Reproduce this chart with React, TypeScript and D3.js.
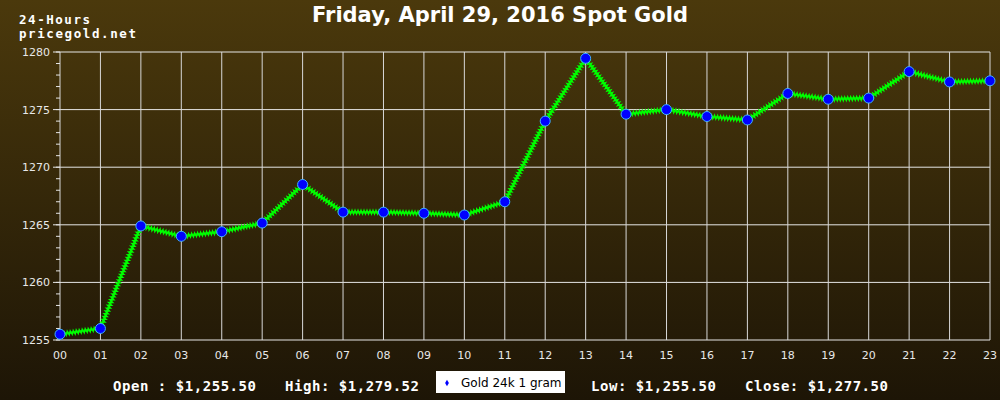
import React from "react";
import * as d3 from "d3";

const hours = ["00","01","02","03","04","05","06","07","08","09","10","11","12","13","14","15","16","17","18","19","20","21","22","23"];
const prices = [1255.5,1256.0,1264.9,1264.0,1264.4,1265.15,1268.5,1266.1,1266.1,1266.0,1265.85,1267.0,1274.0,1279.45,1274.6,1275.0,1274.4,1274.1,1276.4,1275.9,1276.0,1278.3,1277.4,1277.5];
const yTicks = [1255,1260,1265,1270,1275,1280];
const title = "Friday, April 29, 2016 Spot Gold";
const summary = [
  { label: "Open : $1,255.50", x: 113 },
  { label: "High: $1,279.52", x: 285 },
  { label: "Low: $1,255.50", x: 591 },
  { label: "Close: $1,277.50", x: 745 },
];
const legendLabel = "Gold 24k 1 gram";

const W = 1000, H = 400;
const L = 60, R = 990, T = 52, B = 340;

function zigzag(pts: [number, number][]): string {
  const out: string[] = [];
  const step = 1.5, amp = 2;
  let k = 0;
  for (let i = 0; i < pts.length - 1; i++) {
    const [x0, y0] = pts[i];
    const [x1, y1] = pts[i + 1];
    const dx = x1 - x0, dy = y1 - y0;
    const len = Math.hypot(dx, dy);
    const n = Math.max(1, Math.round(len / step));
    const nx = -dy / len, ny = dx / len;
    for (let j = 0; j < n; j++) {
      const t = j / n;
      const s = (k++ % 2 === 0 ? 1 : -1) * amp;
      out.push(`${x0 + dx * t + nx * s},${y0 + dy * t + ny * s}`);
    }
  }
  const last = pts[pts.length - 1];
  out.push(`${last[0]},${last[1]}`);
  return "M" + out.join("L");
}

export default function App() {
  const x = d3.scalePoint<string>().domain(hours).range([L, R]);
  const y = d3.scaleLinear().domain([1255, 1280]).range([B, T]);
  const minor = d3.range(1255, 1281, 1);
  const pts: [number, number][] = prices.map((p, i) => [x(hours[i])!, y(p)]);
  const line = d3.line()(pts)!;
  return (
    <svg width={W} height={H} style={{ position: "absolute", left: 0, top: 0 }}>
      <defs>
        <linearGradient id="bg" x1="0" y1="0" x2="0" y2="1">
          <stop offset="0" stopColor="#4b390c" />
          <stop offset="1" stopColor="#1d1506" />
        </linearGradient>
      </defs>
      <rect x={0} y={0} width={W} height={H} fill="url(#bg)" />
      {yTicks.map((t) => (
        <line key={"h" + t} x1={L} x2={R} y1={y(t)} y2={y(t)} stroke="#e6e6e6" strokeWidth={1} />
      ))}
      {hours.map((h) => (
        <line key={"v" + h} x1={x(h)} x2={x(h)} y1={T} y2={B} stroke="#d8d8d8" strokeWidth={1} />
      ))}
      {minor.map((t) => (
        <line key={"m" + t} x1={L - 4} x2={L} y1={y(t)} y2={y(t)} stroke="#e6e6e6" strokeWidth={1} />
      ))}
      {yTicks.map((t) => (
        <line key={"mt" + t} x1={L - 7} x2={L} y1={y(t)} y2={y(t)} stroke="#e6e6e6" strokeWidth={1} />
      ))}
      {yTicks.map((t) => (
        <text key={"yl" + t} x={L - 10} y={y(t) + 4} textAnchor="end" fill="#e8e8e8" fontFamily="DejaVu Sans" fontSize={11}>
          {t}
        </text>
      ))}
      {hours.map((h) => (
        <text key={"xl" + h} x={x(h)} y={359} textAnchor="middle" fill="#e8e8e8" fontFamily="DejaVu Sans" fontSize={11}>
          {h}
        </text>
      ))}
      <path d={line} fill="none" stroke="#00d400" strokeWidth={2.5} />
      <path d={zigzag(pts)} fill="none" stroke="#00ff00" strokeWidth={1.3} />
      {pts.map(([px, py], i) => (
        <circle key={"p" + i} cx={px} cy={py} r={5} fill="#0000ff" stroke="#3fb0ff" strokeWidth={1} />
      ))}
      <text x={500} y={22} textAnchor="middle" fill="#ffffff" fontFamily="DejaVu Sans" fontWeight="bold" fontSize={21}>
        {title}
      </text>
      <text x={19} y={23.5} fill="#ffffff" fontFamily="DejaVu Sans Mono" fontWeight="bold" fontSize={12.5} textLength={71} lengthAdjust="spacing">24-Hours</text>
      <text x={19} y={38} fill="#ffffff" fontFamily="DejaVu Sans Mono" fontWeight="bold" fontSize={12.5} textLength={117} lengthAdjust="spacing">pricegold.net</text>
      {summary.map((s) => (
        <text key={s.label} x={s.x} y={391} fill="#ffffff" fontFamily="DejaVu Sans Mono" fontWeight="bold" fontSize={14} textLength={s.label.length * 9 - 1} lengthAdjust="spacing">
          {s.label}
        </text>
      ))}
      <rect x={436} y={371} width={129} height={22} fill="#ffffff" />
      <path d={d3.symbol(d3.symbolDiamond, 12)()!} transform="translate(447,383)" fill="#0000ff" />
      <text x={461} y={387} fill="#000000" fontFamily="DejaVu Sans" fontSize={12}>{legendLabel}</text>
    </svg>
  );
}
